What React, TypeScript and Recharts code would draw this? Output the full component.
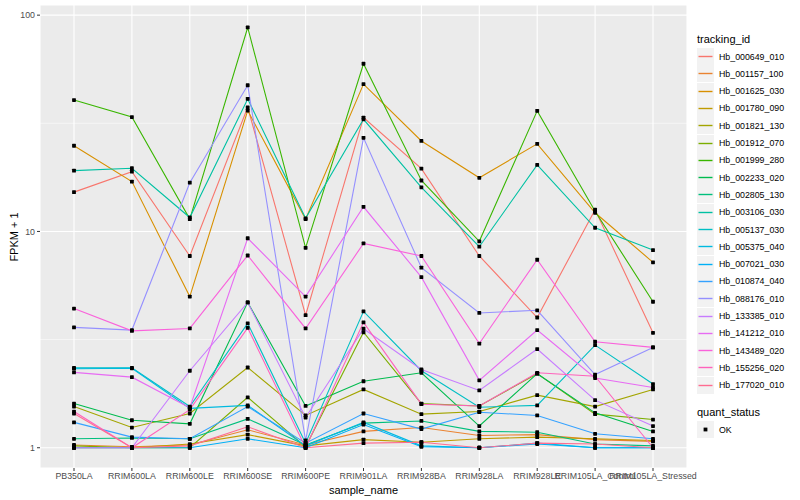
import React from 'react';
import { LineChart, Line, XAxis, YAxis, CartesianGrid, ReferenceLine, Label } from 'recharts';

const categories = [
  'PB350LA', 'RRIM600LA', 'RRIM600LE', 'RRIM600SE', 'RRIM600PE', 'RRIM901LA',
  'RRIM928BA', 'RRIM928LA', 'RRIM928LE', 'RRIM105LA_Control', 'RRIM105LA_Stressed',
];

const seriesIds = [
  'Hb_000649_010', 'Hb_001157_100', 'Hb_001625_030', 'Hb_001780_090', 'Hb_001821_130',
  'Hb_001912_070', 'Hb_001999_280', 'Hb_002233_020', 'Hb_002805_130', 'Hb_003106_030',
  'Hb_005137_030', 'Hb_005375_040', 'Hb_007021_030', 'Hb_010874_040', 'Hb_088176_010',
  'Hb_133385_010', 'Hb_141212_010', 'Hb_143489_020', 'Hb_155256_020', 'Hb_177020_010',
];

const seriesColors = [
  '#F8766D', '#EA8331', '#D89000', '#C09B00', '#A3A500',
  '#7CAE00', '#39B600', '#00BB4E', '#00BF7D', '#00C1A3',
  '#00BFC4', '#00BAE0', '#00B0F6', '#35A2FF', '#9590FF',
  '#C77CFF', '#E76BF3', '#FA62DB', '#FF62BC', '#FF6C91',
];

const hb000649_010 = [15.2, 18.9, 7.7, 37.5, 4.1, 33.6, 19.5, 7.7, 4.0, 12.6, 3.4];
const hb001157_100 = [1.03, 1.01, 1.03, 1.21, 1.03, 1.19, 1.24, 1.14, 1.15, 1.09, 1.07];
const hb001625_030 = [24.9, 17.0, 5.0, 36.2, 11.4, 48.0, 26.2, 17.7, 25.4, 12.2, 7.2];
const hb001780_090 = [1.0, 1.0, 1.04, 1.15, 1.02, 1.09, 1.06, 1.1, 1.12, 1.1, 1.08];
const hb001821_130 = [1.55, 1.24, 1.44, 2.35, 1.41, 1.86, 1.43, 1.47, 1.75, 1.55, 1.86];
const hb001912_070 = [1.02, 1.0, 1.0, 1.71, 1.01, 3.42, 1.6, 1.56, 2.2, 1.43, 1.35];
const hb001999_280 = [40.5, 33.8, 11.4, 87.7, 8.4, 59.6, 17.2, 9.0, 36.1, 12.4, 4.73];
const hb002233_020 = [1.6, 1.34, 1.29, 4.7, 1.56, 2.03, 2.22, 1.26, 2.2, 1.45, 1.19];
const hb002805_130 = [1.1, 1.11, 1.1, 1.36, 1.03, 1.3, 1.33, 1.19, 1.18, 1.04, 1.02];
const hb003106_030 = [19.1, 19.6, 11.6, 41.0, 11.5, 33.0, 16.0, 8.5, 20.3, 10.4, 8.2];
const hb005137_030 = [2.34, 2.34, 1.55, 3.76, 1.05, 4.27, 2.27, 1.54, 1.57, 2.98, 1.97];
const hb005375_040 = [2.32, 2.33, 1.52, 1.57, 1.02, 1.31, 1.02, 1.0, 1.05, 1.0, 1.0];
const hb007021_030 = [1.0, 1.0, 1.0, 1.1, 1.0, 1.28, 1.01, 1.0, 1.04, 1.0, 1.0];
const hb010874_040 = [1.31, 1.12, 1.1, 1.55, 1.05, 1.44, 1.22, 1.46, 1.41, 1.16, 1.1];
const hb088176_010 = [3.6, 3.5, 16.8, 47.4, 1.08, 27.1, 6.8, 4.2, 4.32, 2.18, 2.91];
const hb133385_010 = [1.0, 1.0, 2.27, 4.7, 1.38, 3.55, 2.3, 1.84, 2.86, 1.66, 1.26];
const hb141212_010 = [2.23, 2.12, 1.53, 9.3, 5.0, 13.0, 6.15, 2.05, 3.5, 2.1, 1.9];
const hb143489_020 = [4.4, 3.47, 3.56, 7.74, 3.56, 8.8, 7.7, 3.03, 7.4, 3.09, 2.91];
const hb155256_020 = [1.47, 1.0, 1.5, 3.58, 1.0, 3.8, 1.59, 1.56, 2.22, 2.14, 1.0];
const hb177020_010 = [1.44, 1.0, 1.02, 1.25, 1.0, 1.05, 1.06, 1.0, 1.05, 1.04, 1.0];

const seriesValues = [
  hb000649_010, hb001157_100, hb001625_030, hb001780_090, hb001821_130,
  hb001912_070, hb001999_280, hb002233_020, hb002805_130, hb003106_030,
  hb005137_030, hb005375_040, hb007021_030, hb010874_040, hb088176_010,
  hb133385_010, hb141212_010, hb143489_020, hb155256_020, hb177020_010,
];

const yTicks = [1, 10, 100];
const yMinorBreaks = [3.1623, 31.623];

const data = categories.map((c, i) => {
  const row: Record<string, any> = { sample_name: c };
  seriesIds.forEach((id, k) => {
    row[id] = seriesValues[k][i];
  });
  return row;
});

const FONT = '"Liberation Sans", Arial, Helvetica, sans-serif';

const SquareDot = (props: any) => {
  const { cx, cy, index } = props;
  if (cx == null || cy == null) return <g key={`d${index}`} />;
  return <rect key={`d${index}`} x={cx - 1.9} y={cy - 1.9} width={3.8} height={3.8} rx={0.6} fill="#000000" />;
};

const YTitle = () => (
  <text
    x={14}
    y={237}
    transform="rotate(-90 14 237)"
    textAnchor="middle"
    dominantBaseline="central"
    fontSize={11}
    fill="#000000"
    fontFamily={FONT}
  >
    FPKM + 1
  </text>
);

const LegendBlock = () => {
  const left = 697;
  const itemTop = 48;
  const step = 17.3;
  return (
    <div style={{ position: 'absolute', left: 0, top: 0, width: 800, height: 500, pointerEvents: 'none', fontFamily: FONT }}>
      <div style={{ position: 'absolute', left: left, top: 32, fontSize: 11, lineHeight: '14px', color: '#000' }}>tracking_id</div>
      {seriesIds.map((id, k) => (
        <div key={id} style={{ position: 'absolute', left: left, top: itemTop + k * step, height: 17, display: 'flex', alignItems: 'center' }}>
          <svg width={17} height={17} style={{ display: 'block' }}>
            <rect x={0} y={0} width={17} height={17} fill="#F2F2F2" />
            <line x1={1.5} x2={15.5} y1={8.5} y2={8.5} stroke={seriesColors[k]} strokeWidth={1.4} />
          </svg>
          <span style={{ marginLeft: 5, fontSize: 8.8, color: '#000', whiteSpace: 'nowrap' }}>{id}</span>
        </div>
      ))}
      <div style={{ position: 'absolute', left: left, top: 405, fontSize: 11, lineHeight: '14px', color: '#000' }}>quant_status</div>
      <div style={{ position: 'absolute', left: left, top: 421, height: 17, display: 'flex', alignItems: 'center' }}>
        <svg width={17} height={17} style={{ display: 'block' }}>
          <rect x={0} y={0} width={17} height={17} fill="#F2F2F2" />
          <rect x={6.6} y={6.6} width={3.8} height={3.8} fill="#000" />
        </svg>
        <span style={{ marginLeft: 5, fontSize: 8.8, color: '#000' }}>OK</span>
      </div>
    </div>
  );
};

export default function App() {
  return (
    <div style={{ position: 'absolute', left: 0, top: 0, width: 800, height: 500, background: '#FFFFFF', fontFamily: FONT }}>
      <LineChart width={800} height={500} data={data} margin={{ top: 5, right: 113, bottom: 0, left: 0 }}>
        <CartesianGrid fill="#EBEBEB" stroke="#FFFFFF" strokeWidth={1.1} strokeDasharray="" />
        {yMinorBreaks.map((v) => (
          <ReferenceLine key={v} y={v} stroke="#FFFFFF" strokeWidth={0.55} ifOverflow="hidden" />
        ))}
        <XAxis
          dataKey="sample_name"
          type="category"
          interval={0}
          padding={{ left: 34, right: 34 }}
          height={32}
          axisLine={false}
          tickLine={{ stroke: '#333333' }}
          tickSize={3}
          tick={{ fontSize: 8.8, fill: '#4D4D4D', fontFamily: FONT }}
        >
          <Label value="sample_name" position="insideBottom" offset={6} fontSize={11} fill="#000000" fontFamily={FONT} />
        </XAxis>
        <YAxis
          scale="log"
          domain={[0.806, 111.4]}
          allowDataOverflow
          ticks={yTicks}
          width={40}
          axisLine={false}
          tickLine={{ stroke: '#333333' }}
          tickSize={3}
          tick={{ fontSize: 8.8, fill: '#4D4D4D', fontFamily: FONT }}
        >
          <Label content={<YTitle />} />
        </YAxis>
        {seriesIds.map((id, k) => (
          <Line
            key={id}
            dataKey={id}
            stroke={seriesColors[k]}
            strokeWidth={1.1}
            dot={false}
            activeDot={false}
            type="linear"
            isAnimationActive={false}
          />
        ))}
        {seriesIds.map((id) => (
          <Line
            key={`pts-${id}`}
            dataKey={id}
            stroke="none"
            dot={<SquareDot />}
            activeDot={false}
            type="linear"
            isAnimationActive={false}
            legendType="none"
          />
        ))}
      </LineChart>
      <LegendBlock />
    </div>
  );
}
